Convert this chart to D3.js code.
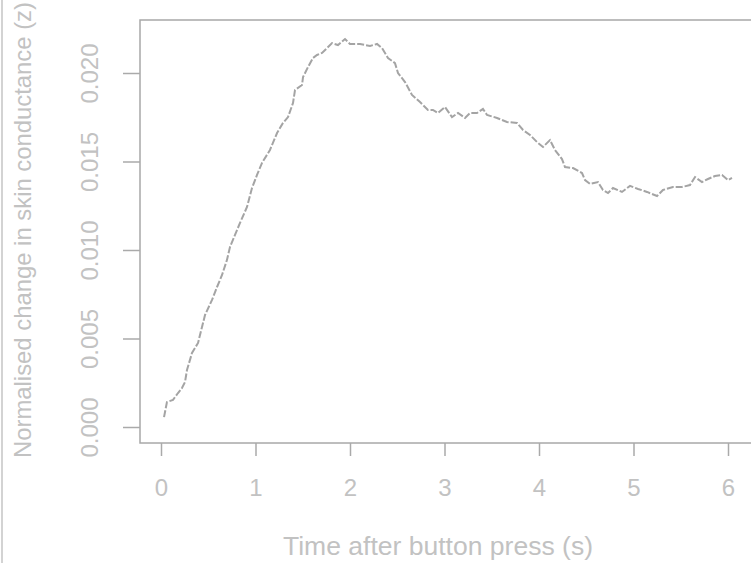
<!DOCTYPE html>
<html>
<head>
<meta charset="utf-8">
<script src="https://cdn.jsdelivr.net/npm/d3@7"></script>
<style>
  body { margin: 0; background: #fff; }
  svg { display: block; }
  text { font-family: "Liberation Sans", Arial, sans-serif; fill: #c2c2c2; }
</style>
</head>
<body>
<svg></svg>
<script>
// time after button press (s)
var time = [0.032, 0.063, 0.127, 0.180, 0.222, 0.254, 0.275, 0.328, 0.392, 0.434, 0.466, 0.540,
  0.593, 0.646, 0.698, 0.730, 0.783, 0.836, 0.910, 0.963, 1.016, 1.069, 1.153, 1.228, 1.291,
  1.344, 1.397, 1.418, 1.492, 1.503, 1.556, 1.608, 1.651, 1.704, 1.757, 1.810, 1.873, 1.947,
  2.000, 2.106, 2.212, 2.286, 2.339, 2.402, 2.476, 2.508, 2.582, 2.656, 2.741, 2.825, 2.878,
  2.931, 3.005, 3.079, 3.143, 3.217, 3.270, 3.344, 3.407, 3.450, 3.556, 3.661, 3.767, 3.831,
  3.905, 3.979, 4.042, 4.116, 4.169, 4.243, 4.275, 4.360, 4.455, 4.487, 4.540, 4.624, 4.677,
  4.730, 4.783, 4.878, 4.963, 5.048, 5.143, 5.249, 5.312, 5.418, 5.513, 5.598, 5.651, 5.725,
  5.788, 5.862, 5.937, 6.000, 6.042];
// normalised change in skin conductance (z)
var conductance = [0.00056, 0.00141, 0.00153, 0.00192, 0.00220, 0.00254, 0.00322, 0.00418,
  0.00475, 0.00565, 0.00633, 0.00718, 0.00791, 0.00859, 0.00944, 0.01017, 0.01085, 0.01153,
  0.01243, 0.01350, 0.01424, 0.01492, 0.01565, 0.01661, 0.01718, 0.01751, 0.01831, 0.01904,
  0.01932, 0.01977, 0.02034, 0.02085, 0.02102, 0.02113, 0.02141, 0.02169, 0.02158, 0.02192,
  0.02164, 0.02164, 0.02153, 0.02164, 0.02141, 0.02085, 0.02056, 0.02000, 0.01949, 0.01876,
  0.01836, 0.01791, 0.01791, 0.01774, 0.01808, 0.01751, 0.01774, 0.01746, 0.01774, 0.01774,
  0.01797, 0.01763, 0.01746, 0.01723, 0.01718, 0.01678, 0.01650, 0.01610, 0.01582, 0.01621,
  0.01565, 0.01514, 0.01469, 0.01463, 0.01435, 0.01395, 0.01373, 0.01384, 0.01339, 0.01322,
  0.01350, 0.01328, 0.01362, 0.01345, 0.01328, 0.01305, 0.01339, 0.01356, 0.01356, 0.01367,
  0.01412, 0.01384, 0.01401, 0.01418, 0.01424, 0.01395, 0.01407];
var xTicks = [0, 1, 2, 3, 4, 5, 6];
var yTicks = [0, 0.005, 0.010, 0.015, 0.020];

var width = 751;
var height = 563;
var box = {left: 140, top: 20, bottom: 443, right: 780};

var svg = d3.select("svg")
  .attr("width", width)
  .attr("height", height);

// 0 -> 161px, 6 -> 728px ; 0 -> 427px, 0.020 -> 73px
var x = d3.scaleLinear().domain([0, 6]).range([161, 728]);
var y = d3.scaleLinear().domain([0, 0.020]).range([427, 73]);

// stray edge line on the far left
svg.append("line")
  .attr("x1", 2).attr("x2", 2).attr("y1", 0).attr("y2", height)
  .attr("stroke", "#c4c4c4").attr("stroke-width", 1.5);

svg.append("rect")
  .attr("x", box.left).attr("y", box.top)
  .attr("width", box.right - box.left).attr("height", box.bottom - box.top)
  .attr("fill", "none").attr("stroke", "#a8a8a8").attr("stroke-width", 1.5);

var xAxis = svg.append("g")
  .attr("transform", `translate(0,${box.bottom})`)
  .call(d3.axisBottom(x).tickValues(xTicks).tickSize(13).tickPadding(23).tickFormat(d3.format("d")));
xAxis.select(".domain").remove();
xAxis.selectAll("line").attr("stroke", "#aaaaaa").attr("stroke-width", 1.5);
xAxis.selectAll("text").style("font-size", "24px").style("fill", "#c2c2c2");

var yAxis = svg.append("g")
  .attr("transform", `translate(${box.left},0)`)
  .call(d3.axisLeft(y).tickValues(yTicks).tickSize(17).tickFormat(d3.format(".3f")));
yAxis.select(".domain").remove();
yAxis.selectAll("line").attr("stroke", "#aaaaaa").attr("stroke-width", 1.5);
yAxis.selectAll("text")
  .attr("x", null).attr("dy", null)
  .attr("text-anchor", "middle")
  .attr("transform", "translate(-42,0) rotate(-90)")
  .style("font-size", "24px").style("fill", "#c2c2c2");

var line = d3.line()
  .x(function(d, i) { return x(time[i]); })
  .y(function(d) { return y(d); })
  .curve(d3.curveLinear);

svg.append("path")
  .datum(conductance)
  .attr("d", line)
  .attr("fill", "none")
  .attr("stroke", "#a4a4a4")
  .attr("stroke-width", 2)
  .attr("stroke-dasharray", "7,2");

svg.append("text")
  .attr("x", 438).attr("y", 555)
  .attr("text-anchor", "middle")
  .style("font-size", "25px")
  .attr("textLength", 310).attr("lengthAdjust", "spacingAndGlyphs")
  .text("Time after button press (s)");

svg.append("text")
  .attr("transform", "translate(31,230) rotate(-90)")
  .attr("text-anchor", "middle")
  .style("font-size", "24px")
  .attr("textLength", 456).attr("lengthAdjust", "spacingAndGlyphs")
  .text("Normalised change in skin conductance (z)");
</script>
</body>
</html>
